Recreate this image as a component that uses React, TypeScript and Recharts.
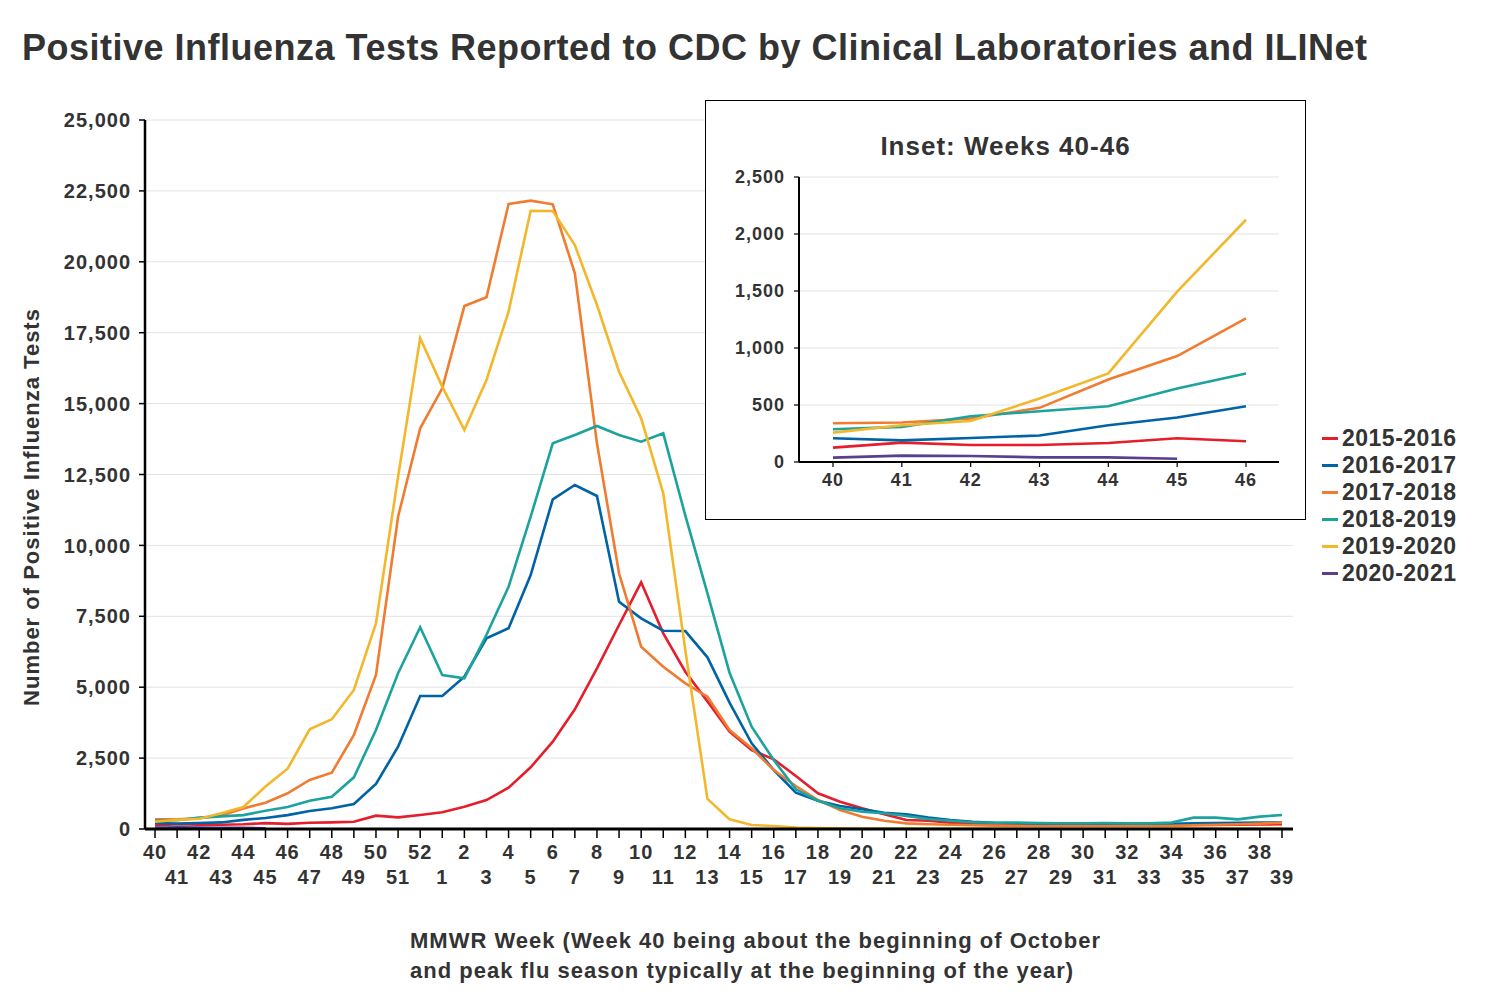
import React from "react";
import { LineChart, Line, XAxis, YAxis, CartesianGrid } from "recharts";

const weeks = [
  "40", "41", "42", "43", "44", "45", "46", "47", "48", "49", "50", "51", "52",
  "1", "2", "3", "4", "5", "6", "7", "8", "9", "10", "11", "12", "13",
  "14", "15", "16", "17", "18", "19", "20", "21", "22", "23", "24", "25", "26",
  "27", "28", "29", "30", "31", "32", "33", "34", "35", "36", "37", "38", "39",
];

const s2015 = [
  126, 170, 149, 149, 167, 208, 182, 222, 235, 257, 470, 411, 494,
  588, 787, 1022, 1457, 2175, 3079, 4220, 5665, 7193, 8698, 6900, 5547, 4500,
  3431, 2785, 2457, 1869, 1258, 963, 730, 518, 317, 293, 223, 200, 180,
  170, 160, 150, 140, 140, 130, 130, 130, 140, 140, 150, 160, 165,
];
const s2016 = [
  208, 190, 211, 232, 322, 390, 489, 635, 729, 881, 1587, 2903, 4690,
  4690, 5370, 6724, 7077, 8956, 11625, 12129, 11742, 8015, 7429, 6992, 6980, 6054,
  4454, 3022, 2080, 1280, 998, 811, 694, 575, 518, 400, 317, 258, 220,
  200, 190, 180, 180, 175, 170, 170, 180, 200, 210, 220, 225, 230,
];
const s2017 = [
  340, 346, 381, 475, 724, 929, 1260, 1728, 1986, 3314, 5430, 11012, 14128,
  15540, 18440, 18748, 22037, 22155, 22027, 19594, 13600, 9015, 6428, 5723, 5137, 4665,
  3490, 2845, 2080, 1516, 1022, 670, 434, 293, 200, 170, 150, 130, 120,
  110, 105, 100, 100, 100, 100, 105, 110, 130, 150, 170, 190, 222,
];
const s2018 = [
  287, 308, 402, 445, 489, 645, 777, 998, 1139, 1822, 3490, 5490, 7112,
  5430, 5314, 6850, 8544, 11012, 13600, 13893, 14210, 13893, 13657, 13952, 11050, 8311,
  5511, 3607, 2433, 1400, 998, 730, 610, 553, 458, 353, 293, 240, 222,
  230, 210, 205, 205, 210, 200, 200, 230, 400, 400, 340, 435, 494,
];
const s2019 = [
  258, 322, 360, 557, 777, 1495, 2125, 3515, 3868, 4901, 7253, 12422, 17310,
  15600, 14070, 15832, 18240, 21800, 21790, 20590, 18476, 16125, 14481, 11837, 6300, 1060,
  342, 141, 106, 47, 30, 25, 20, 18, 15, 15, 12, 12, 10,
  10, 10, 10, 10, 10, 10, 10, 12, 12, 14, 15, 15, 18,
];
const s2020 = [38, 56, 53, 41, 41, 29];

const seasons = [
  { key: "2015-2016", values: s2015, color: "#e41e2b" },
  { key: "2016-2017", values: s2016, color: "#0063a6" },
  { key: "2017-2018", values: s2017, color: "#ef7c30" },
  { key: "2018-2019", values: s2018, color: "#1ca39e" },
  { key: "2019-2020", values: s2019, color: "#f3b72c" },
  { key: "2020-2021", values: s2020, color: "#5a3f8e" },
];

const mainTicks = [0, 2500, 5000, 7500, 10000, 12500, 15000, 17500, 20000, 22500, 25000];
const insetTicks = [0, 500, 1000, 1500, 2000, 2500];

const data = weeks.map((w, i) => {
  const row: any = { week: w };
  seasons.forEach((s) => {
    row[s.key] = i < s.values.length ? s.values[i] : null;
  });
  return row;
});

const FONT = "'Liberation Sans', Arial, sans-serif";
const TEXT = "#333333";
const fmt = (v: number) => v.toLocaleString("en-US");

const WeekTick = (props: any) => {
  const { x, y, payload, index } = props;
  const i = index ?? payload.index;
  return (
    <text
      x={x}
      y={y + (i % 2 === 0 ? 19 : 44)}
      textAnchor="middle"
      fontSize={20}
      fontWeight="bold"
      fontFamily={FONT}
      letterSpacing={1}
      fill={TEXT}
    >
      {payload.value}
    </text>
  );
};

export default function App() {
  return (
    <div style={{ position: "absolute", left: 0, top: 0, width: 1500, height: 1000, background: "#fff", fontFamily: FONT }}>
      <div
        style={{
          position: "absolute",
          left: 22,
          top: 30,
          fontSize: 36,
          lineHeight: "36px",
          letterSpacing: 0.5,
          fontWeight: "bold",
          color: TEXT,
          whiteSpace: "nowrap",
        }}
      >
        Positive Influenza Tests Reported to CDC by Clinical Laboratories and ILINet
      </div>

      <LineChart
        width={1500}
        height={1000}
        data={data}
        margin={{ top: 120, right: 207, bottom: 111, left: 65 }}
        style={{ position: "absolute", left: 0, top: 0 }}
      >
        <CartesianGrid vertical={false} stroke="#e3e3e3" strokeWidth={1} />
        <XAxis
          dataKey="week"
          interval={0}
          height={60}
          padding={{ left: 10, right: 11 }}
          tick={<WeekTick />}
          tickSize={9}
          axisLine={{ stroke: "#000", strokeWidth: 3 }}
          tickLine={{ stroke: "#000", strokeWidth: 1.5 }}
        />
        <YAxis
          width={80}
          domain={[0, 25000]}
          ticks={mainTicks}
          tickFormatter={fmt}
          tickSize={6}
          tickMargin={8}
          axisLine={{ stroke: "#000", strokeWidth: 2.5 }}
          tickLine={{ stroke: "#000", strokeWidth: 1.5 }}
          tick={{ fontSize: 20, fontWeight: "bold", fontFamily: FONT, fill: TEXT, letterSpacing: 1 }}
        />
        {seasons.map((s) => (
          <Line
            key={s.key}
            dataKey={s.key}
            stroke={s.color}
            strokeWidth={2.6}
            dot={false}
            type="linear"
            isAnimationActive={false}
          />
        ))}
      </LineChart>

      <div
        style={{
          position: "absolute",
          left: 32,
          top: 507,
          transform: "translate(-50%, -50%) rotate(-90deg)",
          fontSize: 22,
          letterSpacing: 1,
          fontWeight: "bold",
          color: TEXT,
          whiteSpace: "nowrap",
        }}
      >
        Number of Positive Influenza Tests
      </div>

      <div
        style={{
          position: "absolute",
          left: 410,
          top: 926,
          fontSize: 22,
          letterSpacing: 1,
          fontWeight: "bold",
          color: TEXT,
          lineHeight: "30px",
          whiteSpace: "nowrap",
        }}
      >
        MMWR Week (Week 40 being about the beginning of October
        <br />
        and peak flu season typically at the beginning of the year)
      </div>

      <div
        style={{
          position: "absolute",
          left: 705,
          top: 100,
          width: 601,
          height: 420,
          boxSizing: "border-box",
          border: "1px solid #000",
          background: "#fff",
        }}
      >
        <div
          style={{
            position: "absolute",
            left: 0,
            width: 599,
            top: 30,
            textAlign: "center",
            fontSize: 26,
            letterSpacing: 1,
            fontWeight: "bold",
            color: TEXT,
          }}
        >
          Inset: Weeks 40-46
        </div>
        <LineChart
          width={599}
          height={418}
          data={data.slice(0, 7)}
          margin={{ top: 76, right: 26, bottom: 27, left: 23 }}
          style={{ position: "absolute", left: 0, top: 0 }}
        >
          <CartesianGrid vertical={false} stroke="#e3e3e3" strokeWidth={1} />
          <XAxis
            dataKey="week"
            interval={0}
            height={30}
            padding={{ left: 34, right: 33 }}
            tickSize={5}
            tickMargin={6}
            axisLine={{ stroke: "#000", strokeWidth: 2 }}
            tickLine={{ stroke: "#000", strokeWidth: 1.2 }}
            tick={{ fontSize: 18, fontWeight: "bold", fontFamily: FONT, fill: TEXT, letterSpacing: 1 }}
          />
          <YAxis
            width={70}
            domain={[0, 2500]}
            ticks={insetTicks}
            tickFormatter={fmt}
            tickSize={5}
            tickMargin={9}
            axisLine={{ stroke: "#000", strokeWidth: 2 }}
            tickLine={{ stroke: "#000", strokeWidth: 1.2 }}
            tick={{ fontSize: 18, fontWeight: "bold", fontFamily: FONT, fill: TEXT, letterSpacing: 1 }}
          />
          {seasons.map((s) => (
            <Line
              key={s.key}
              dataKey={s.key}
              stroke={s.color}
              strokeWidth={2.6}
              dot={false}
              type="linear"
              isAnimationActive={false}
            />
          ))}
        </LineChart>
      </div>

      <div style={{ position: "absolute", left: 1322, top: 425 }}>
        {seasons.map((s) => (
          <div key={s.key} style={{ display: "flex", alignItems: "center", height: 27 }}>
            <div style={{ width: 16, height: 3, background: s.color, marginRight: 4 }} />
            <span style={{ fontSize: 23, letterSpacing: 0.5, fontWeight: "bold", color: TEXT, whiteSpace: "nowrap" }}>
              {s.key}
            </span>
          </div>
        ))}
      </div>
    </div>
  );
}
